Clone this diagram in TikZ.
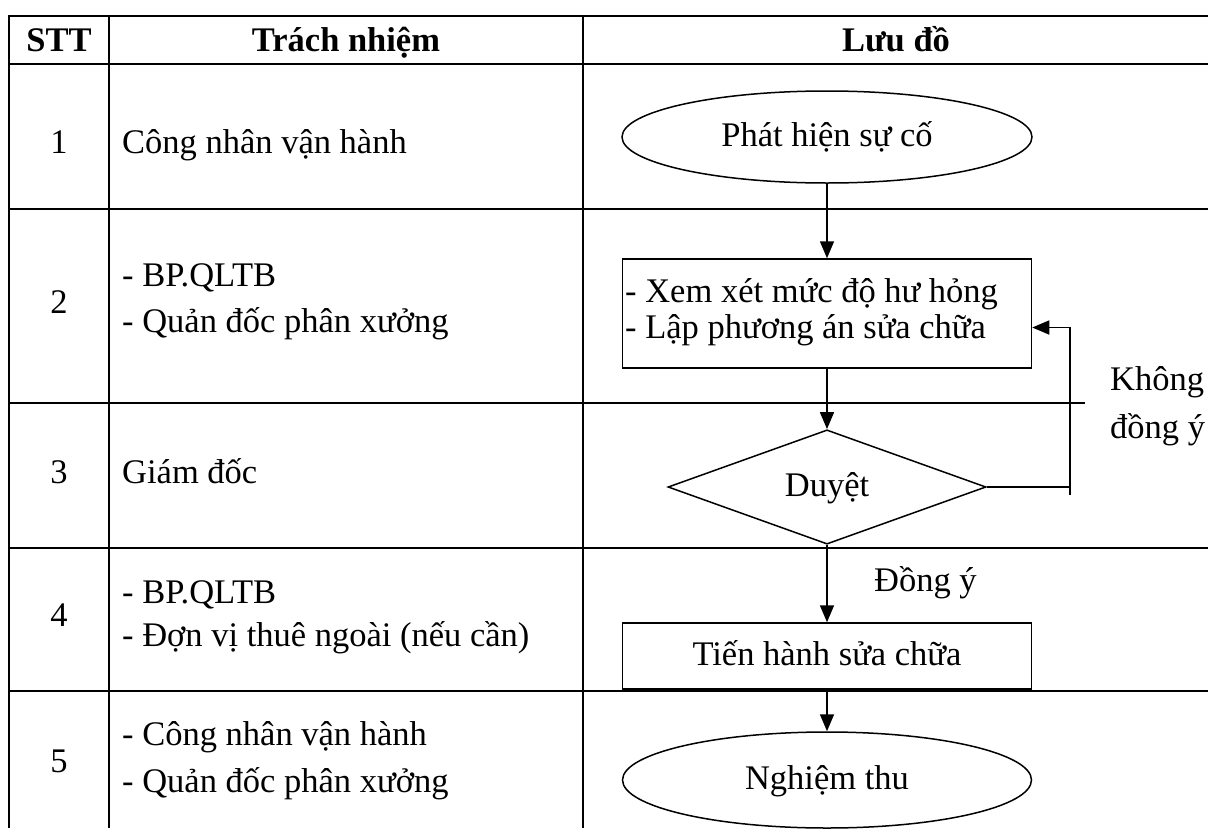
\documentclass[tikz,border=0pt]{standalone}
\usepackage{fontspec}
\setmainfont{Liberation Serif}
\usetikzlibrary{shapes.geometric,arrows.meta,calc}
\begin{document}
\begin{tikzpicture}[x=1pt,y=-1pt,
  grid/.style={line width=2.2pt},
  txt/.style={inner sep=0pt,font=\fontsize{34.5}{40}\selectfont},
  head/.style={inner sep=0pt,font=\fontsize{34.5}{40}\selectfont\bfseries},
  shapebox/.style={draw,line width=1.5pt,inner sep=0pt,
    font=\fontsize{34.5}{40}\selectfont,text height=24pt,text depth=6pt},
  wire/.style={line width=1.6pt},
  link/.style={wire,-{Triangle[length=17pt,width=14pt]}},
  ]
\useasboundingbox (0,0) rectangle (1208,828);

% table rules
\draw[grid] (1208,16) -- (9,16) -- (9,828);
\draw[grid] (109,16) -- (109,828);
\draw[grid] (583,16) -- (583,828);
\draw[grid] (9,64) -- (1208,64);
\draw[grid] (9,209) -- (1208,209);
\draw[grid] (9,403) -- (1085,403);
\draw[grid] (9,548) -- (1208,548);
\draw[grid] (9,691) -- (1208,691);

% header
\node[head,anchor=base] (hstt) at (59,51) {STT};
\node[head,anchor=base] (hresp) at (346,51) {Trách nhiệm};
\node[head,anchor=base] (hflow) at (896,51) {Lưu đồ};

% step numbers
\node[txt,anchor=base] (n1) at (59,153) {1};
\node[txt,anchor=base] (n2) at (59,313) {2};
\node[txt,anchor=base] (n3) at (59,483) {3};
\node[txt,anchor=base] (n4) at (59,626) {4};
\node[txt,anchor=base] (n5) at (59,772) {5};

% responsibilities
\node[txt,anchor=base west] (r1) at (122,153) {Công nhân vận hành};
\node[txt,anchor=base west] (r2a) at (122,286) {- BP.QLTB};
\node[txt,anchor=base west] (r2b) at (122,332) {- Quản đốc phân xưởng};
\node[txt,anchor=base west] (r3) at (122,483) {Giám đốc};
\node[txt,anchor=base west] (r4a) at (122,603) {- BP.QLTB};
\node[txt,anchor=base west] (r4b) at (122,646) {- Đợn vị thuê ngoài (nếu cần)};
\node[txt,anchor=base west] (r5a) at (122,745) {- Công nhân vận hành};
\node[txt,anchor=base west] (r5b) at (122,792) {- Quản đốc phân xưởng};

% flowchart
\node[shapebox,ellipse,minimum width=410pt,minimum height=92pt] (start) at (827,137) {Phát hiện sự cố};
\node[shapebox,rectangle,minimum width=409pt,minimum height=109pt] (review) at (827,313.5) {};
\node[txt,anchor=base west] (review1) at (625,302) {- Xem xét mức độ hư hỏng};
\node[txt,anchor=base west] (review2) at (625,338) {- Lập phương án sửa chữa};
\node[shapebox,diamond,minimum width=318pt,minimum height=111pt] (approve) at (827,487) {Duyệt};
\node[shapebox,rectangle,minimum width=409pt,minimum height=66pt] (repair) at (827,656) {Tiến hành sửa chữa};
\node[shapebox,ellipse,minimum width=409pt,minimum height=96pt] (accept) at (827,780) {Nghiệm thu};

\draw[link] (start.south) -- (review.north);
\draw[link] (review.south) -- (approve.north);
\draw[link] (approve.south) -- (repair.north);
\draw[link] (repair.south) -- (accept.north);

% rejection loop back to the review box
\coordinate (loopTop) at ($(review.east)+(38,14)$);
\coordinate (loopBot) at ($(approve.east -| loopTop)+(0,8)$);
\draw[wire] (approve.east) -- (approve.east -| loopTop);
\draw[link] (loopBot) -- (loopTop) -- (review.east |- loopTop);

% branch labels
\node[txt,anchor=base west] (yes) at (874,591) {Đồng ý};
\node[txt,anchor=base west] (no1) at (1110,390) {Không};
\node[txt,anchor=base west] (no2) at (1110,438) {đồng ý};
\end{tikzpicture}
\end{document}
